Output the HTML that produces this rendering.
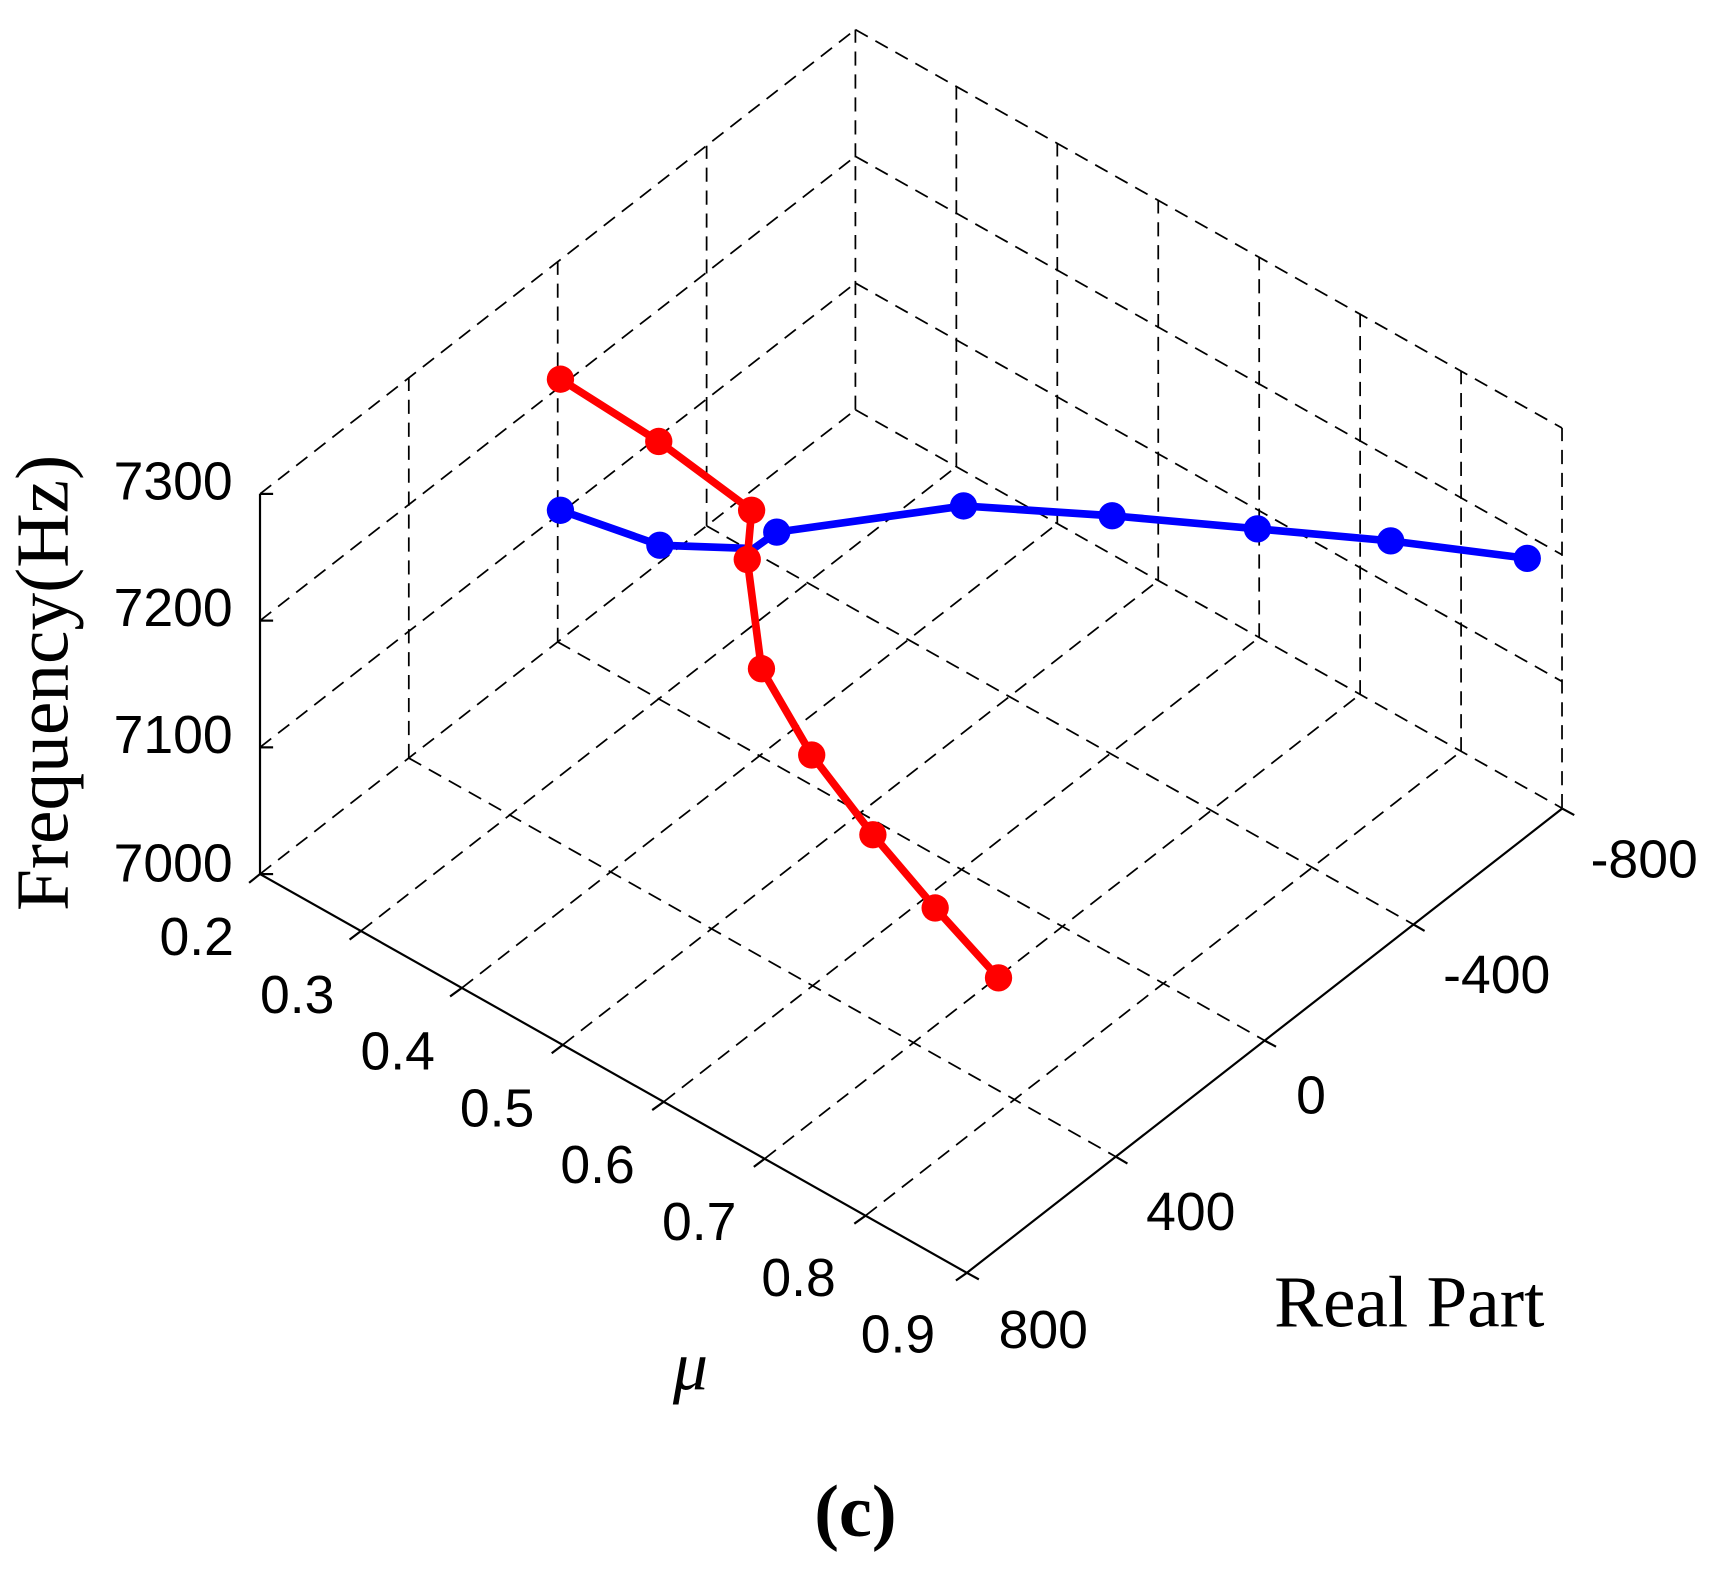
<!DOCTYPE html>
<html><head><meta charset="utf-8"><style>html,body{margin:0;padding:0;background:#fff}svg{display:block}</style></head>
<body>
<svg width="1713" height="1569" viewBox="0 0 1568 1436" xmlns="http://www.w3.org/2000/svg">
<g stroke="#000" stroke-width="1.6" fill="none" stroke-dasharray="13,8">
<line x1="330.4" y1="852.1" x2="875.4" y2="427.1"/>
<line x1="422.8" y1="904.2" x2="967.8" y2="479.2"/>
<line x1="515.2" y1="956.3" x2="1060.2" y2="531.3"/>
<line x1="607.6" y1="1008.4" x2="1152.6" y2="583.4"/>
<line x1="700" y1="1060.5" x2="1245" y2="635.5"/>
<line x1="792.4" y1="1112.6" x2="1337.4" y2="687.6"/>
<line x1="238" y1="800" x2="783" y2="375"/>
<line x1="374.2" y1="693.8" x2="1021" y2="1058.5"/>
<line x1="510.5" y1="587.5" x2="1157.3" y2="952.2"/>
<line x1="646.8" y1="481.3" x2="1293.6" y2="846"/>
<line x1="783" y1="375" x2="1429.8" y2="739.7"/>
<line x1="374.2" y1="693.8" x2="374.2" y2="345.8"/>
<line x1="510.5" y1="587.5" x2="510.5" y2="239.5"/>
<line x1="646.8" y1="481.3" x2="646.8" y2="133.3"/>
<line x1="783" y1="375" x2="783" y2="27"/>
<line x1="238" y1="684" x2="783" y2="259"/>
<line x1="238" y1="568" x2="783" y2="143"/>
<line x1="238" y1="452" x2="783" y2="27"/>
<line x1="875.4" y1="427.1" x2="875.4" y2="79.1"/>
<line x1="967.8" y1="479.2" x2="967.8" y2="131.2"/>
<line x1="1060.2" y1="531.3" x2="1060.2" y2="183.3"/>
<line x1="1152.6" y1="583.4" x2="1152.6" y2="235.4"/>
<line x1="1245" y1="635.5" x2="1245" y2="287.5"/>
<line x1="1337.4" y1="687.6" x2="1337.4" y2="339.6"/>
<line x1="1429.8" y1="739.7" x2="1429.8" y2="391.7"/>
<line x1="783" y1="259" x2="1429.8" y2="623.7"/>
<line x1="783" y1="143" x2="1429.8" y2="507.7"/>
<line x1="783" y1="27" x2="1429.8" y2="391.7"/>
</g>
<g stroke="#000" stroke-width="2" fill="none">
<line x1="238" y1="800" x2="885" y2="1165"/>
<line x1="885" y1="1165" x2="1430" y2="740"/>
<line x1="238" y1="800" x2="238" y2="452"/>
<line x1="238" y1="800" x2="250" y2="800"/><line x1="238" y1="684" x2="250" y2="684"/>
<line x1="238" y1="568" x2="250" y2="568"/><line x1="238" y1="452" x2="250" y2="452"/>
<line x1="238" y1="800" x2="228" y2="808"/><line x1="330.4" y1="852.1" x2="320" y2="860"/>
<line x1="422.8" y1="904.2" x2="412" y2="912"/><line x1="515.2" y1="956.3" x2="505" y2="964"/>
<line x1="607.6" y1="1008.4" x2="597" y2="1016"/><line x1="700" y1="1060.5" x2="690" y2="1068"/>
<line x1="792.4" y1="1112.6" x2="782" y2="1120"/><line x1="885" y1="1165" x2="875" y2="1172"/>
<line x1="885" y1="1165" x2="896" y2="1171"/><line x1="1021" y1="1058.5" x2="1032" y2="1065"/>
<line x1="1157.3" y1="952.2" x2="1168" y2="958"/><line x1="1293.6" y1="846" x2="1304" y2="852"/>
<line x1="1430" y1="740" x2="1441" y2="746"/>
</g>
<polyline fill="none" stroke="#0000ff" stroke-width="7" stroke-linejoin="round" points="513,467 604,499 690,502 711,487 882,463 1018,472 1151,484 1273,495 1398,511"/>
<g fill="#0000ff">
<circle cx="513" cy="467" r="12.5"/><circle cx="604" cy="499" r="12.5"/><circle cx="711" cy="487" r="12.5"/>
<circle cx="882" cy="463" r="12.5"/><circle cx="1018" cy="472" r="12.5"/><circle cx="1151" cy="484" r="12.5"/>
<circle cx="1273" cy="495" r="12.5"/><circle cx="1398" cy="511" r="12.5"/>
</g>
<polyline fill="none" stroke="#ff0000" stroke-width="7" stroke-linejoin="round" points="513,347 603,404 688,467 684,512 697,612 743,691 799,764 856,831 914,895"/>
<g fill="#ff0000">
<circle cx="513" cy="347" r="12.5"/><circle cx="603" cy="404" r="12.5"/><circle cx="688" cy="467" r="12.5"/>
<circle cx="684" cy="512" r="12.5"/><circle cx="697" cy="612" r="12.5"/><circle cx="743" cy="691" r="12.5"/>
<circle cx="799" cy="764" r="12.5"/><circle cx="856" cy="831" r="12.5"/><circle cx="914" cy="895" r="12.5"/>
</g>
<g font-family="Liberation Sans, sans-serif" font-size="49" fill="#000">
<g text-anchor="end">
<text x="213" y="457">7300</text><text x="213" y="573">7200</text>
<text x="213" y="689">7100</text><text x="213" y="807">7000</text>
</g>
<g text-anchor="middle">
<text x="180" y="874">0.2</text><text x="272" y="927">0.3</text><text x="364" y="979">0.4</text>
<text x="455" y="1031">0.5</text><text x="547" y="1083">0.6</text><text x="640" y="1135">0.7</text>
<text x="731" y="1186">0.8</text><text x="822" y="1238">0.9</text>
<text x="955" y="1234">800</text><text x="1090" y="1126">400</text><text x="1200" y="1019">0</text>
<text x="1370" y="909">-400</text><text x="1505" y="803">-800</text>
</g>
</g>
<g font-family="Liberation Serif, serif" fill="#000">
<text x="1290" y="1214" font-size="67" text-anchor="middle">Real Part</text>
<text x="632" y="1272" font-size="64" font-style="italic" text-anchor="middle">μ</text>
<text transform="translate(62,625) rotate(-90)" font-size="69" text-anchor="middle">Frequency(Hz)</text>
<text x="783" y="1406" font-size="68" font-weight="bold" text-anchor="middle">(c)</text>
</g>
</svg>
</body></html>
